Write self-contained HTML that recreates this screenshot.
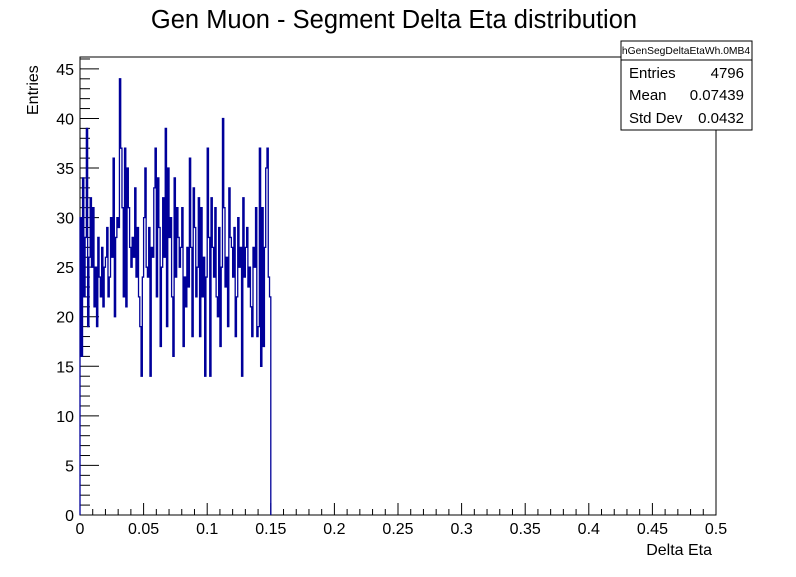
<!DOCTYPE html>
<html><head><meta charset="utf-8"><style>
body{margin:0;background:#fff;font-family:"Liberation Sans",sans-serif}
svg text{font-family:"Liberation Sans",sans-serif}
</style></head><body>
<svg id="c" width="796" height="572">
<rect width="796" height="572" fill="#fff"/>
<text x="394" y="28" font-size="25.5" text-anchor="middle">Gen Muon - Segment Delta Eta distribution</text>
<rect x="80" y="57" width="636" height="458" fill="none" stroke="#000"/>
<g id="axes"></g>
<path id="hist" fill="none" stroke="#00009a" stroke-width="1.3"/>
<text x="712" y="555" font-size="16" text-anchor="end">Delta Eta</text>
<text transform="translate(38,115) rotate(-90)" font-size="16">Entries</text>
<g>
<rect x="621" y="41" width="131" height="89" fill="#fff" stroke="#000"/>
<line x1="621" y1="60" x2="752" y2="60" stroke="#000"/>
<text x="686" y="54" font-size="10.3" text-anchor="middle">hGenSegDeltaEtaWh.0MB4</text>
<text x="629" y="78" font-size="15">Entries</text><text x="744" y="78" font-size="15" text-anchor="end">4796</text>
<text x="629" y="100" font-size="15">Mean</text><text x="744" y="100" font-size="15" text-anchor="end">0.07439</text>
<text x="629" y="123" font-size="15">Std Dev</text><text x="744" y="123" font-size="15" text-anchor="end">0.0432</text>
</g>
</svg>
<script>
const binWidth = 0.001;
const counts = [30,16,34,22,28,39,19,26,32,25,31,21,25,19,28,24,22,27,21,25,26,29,22,24,30,26,36,20,28,30,29,44,37,31,22,37,21,35,31,27,25,28,26,33,24,29,22,19,14,24,30,35,25,24,29,14,27,26,33,37,22,34,29,17,25,32,26,39,19,35,28,30,22,16,34,24,31,28,25,27,31,17,24,21,27,23,36,27,18,33,29,22,25,32,18,31,22,26,14,24,37,28,14,32,27,24,31,22,20,29,17,25,40,31,23,26,19,33,28,27,24,29,18,22,30,25,27,14,32,24,27,29,23,25,21,18,27,25,31,18,19,37,15,31,17,27,35,37,24,22];
const xTicks = [0,0.05,0.1,0.15,0.2,0.25,0.3,0.35,0.4,0.45,0.5];
const yTicks = [0,5,10,15,20,25,30,35,40,45];
const X0=80,X1=716,Y0=515,YMAX=46.2,Ytop=57;
const sx=v=>X0+(v/0.5)*(X1-X0);
const sy=v=>Y0-(v/YMAX)*(Y0-Ytop);
const ns="http://www.w3.org/2000/svg";
const ax=document.getElementById('axes');
function mk(t,a){const e=document.createElementNS(ns,t);for(const k in a)e.setAttribute(k,a[k]);ax.appendChild(e);return e;}
for(let i=0;i<=50;i++){const v=i*0.01;const big=i%5===0;
 const l=mk('line',{x1:sx(v),x2:sx(v),y1:Y0,y2:Y0-(big?12:6),stroke:'#000'});
 
 }
xTicks.forEach(v=>{const t=mk('text',{x:sx(v),y:Y0+19,'font-size':16,'text-anchor':'middle'});t.textContent=String(v);
 
 });
for(let v=0;v<=46;v++){const big=v%5===0;
 const l=mk('line',{x1:X0,x2:X0+(big?19:10),y1:sy(v),y2:sy(v),stroke:'#000'});
 
 }
yTicks.forEach(v=>{const t=mk('text',{x:X0-6,y:sy(v)+6,'font-size':16,'text-anchor':'end'});t.textContent=String(v);
 
 });
let d='M'+sx(0)+','+sy(0);
counts.forEach((c,i)=>{d+=' L'+sx(i*binWidth)+','+sy(c)+' L'+sx((i+1)*binWidth)+','+sy(c);});
d+=' L'+sx(counts.length*binWidth)+','+sy(0);
document.getElementById('hist').setAttribute('d',d);
</script>
</body></html>
